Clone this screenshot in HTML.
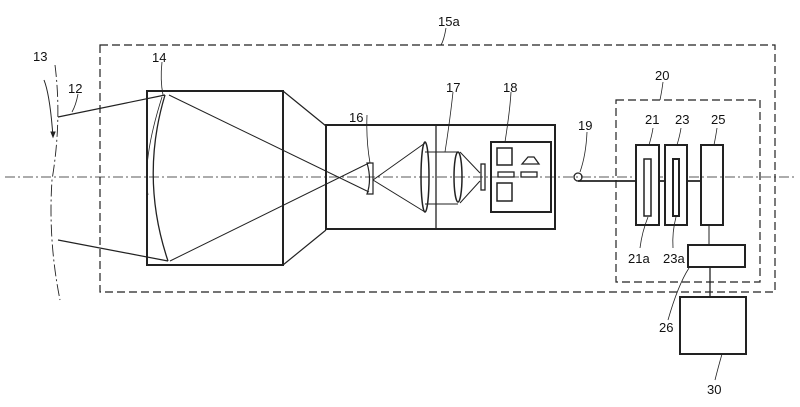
<!DOCTYPE html>
<html><head><style>body{margin:0;background:#fff}svg{display:block}text{font-family:"Liberation Sans",sans-serif;font-size:13px;fill:#111}</style></head><body>
<svg width="800" height="407" viewBox="0 0 800 407" xmlns="http://www.w3.org/2000/svg">
<g fill="none" stroke="#222">
<line x1="5" y1="177" x2="795" y2="177" stroke-width="0.8" stroke-dasharray="10,3,2,3"/>
<rect x="100" y="45" width="675" height="247" stroke-width="1.2" stroke-dasharray="8,4"/>
<rect x="616" y="100" width="144" height="182" stroke-width="1.2" stroke-dasharray="8,4"/>
<path d="M55 65 Q62 120 52 180 Q48 240 60 300" stroke-width="0.9" stroke-dasharray="12,3,2,3"/>
<path d="M44 80 Q50 95 53 137" stroke-width="1"/>
<path d="M53 137 l-2 -5 l4 0 z" fill="#222"/>
<line x1="58" y1="117" x2="165" y2="95" stroke-width="1.2"/>
<line x1="58" y1="240" x2="168" y2="261" stroke-width="1.2"/>
<line x1="169" y1="95" x2="369" y2="192" stroke-width="1"/>
<line x1="170" y1="261" x2="369" y2="163" stroke-width="1"/>
<rect x="147" y="91" width="136" height="174" stroke-width="2"/>
<path d="M283 91 L326 126 M283 265 L326 230" stroke-width="1.2"/>
<path d="M165 95 Q140 178 168 261" stroke-width="1.3"/>
<path d="M162 97 Q142 160 148 195" stroke-width="0.8"/>
<rect x="326" y="125" width="229" height="104" stroke-width="2"/>
<line x1="436" y1="125" x2="436" y2="229" stroke-width="1.3"/>
<path d="M367 163 h6 v31 h-6 Q372 180 367 163 z" stroke-width="1.2"/>
<path d="M373 180 L425 143 M373 180 L425 212" stroke-width="1"/>
<ellipse cx="425" cy="177" rx="4" ry="35" stroke-width="1.5"/>
<path d="M425 152 H458 M425 204 H458" stroke-width="1"/>
<ellipse cx="458" cy="177" rx="4" ry="25" stroke-width="1.5"/>
<path d="M460 152 L480 173 M460 203 L480 181" stroke-width="1"/>
<rect x="481" y="164" width="4" height="26" stroke-width="1.3"/>
<rect x="491" y="142" width="60" height="70" stroke-width="2"/>
<rect x="497" y="148" width="15" height="17" stroke-width="1.5"/>
<rect x="497" y="183" width="15" height="18" stroke-width="1.5"/>
<rect x="498" y="172" width="16" height="5" stroke-width="1.3"/>
<rect x="521" y="172" width="16" height="5" stroke-width="1.3"/>
<path d="M522 164 L528 157 H534 L539 164 Z" stroke-width="1.3"/>
<circle cx="578" cy="177" r="4" stroke-width="1.3"/>
<line x1="578" y1="181" x2="701" y2="181" stroke-width="1.8"/>
<rect x="636" y="145" width="23" height="80" stroke-width="2" fill="#fff"/>
<rect x="644" y="159" width="7" height="57" stroke-width="1.5"/>
<rect x="665" y="145" width="22" height="80" stroke-width="2" fill="#fff"/>
<rect x="673" y="159" width="6" height="57" stroke-width="2"/>
<rect x="701" y="145" width="22" height="80" stroke-width="2"/>
<line x1="709" y1="225" x2="709" y2="245" stroke-width="1"/>
<rect x="688" y="245" width="57" height="22" stroke-width="2"/>
<line x1="710" y1="267" x2="710" y2="297" stroke-width="1.3"/>
<rect x="680" y="297" width="66" height="57" stroke-width="2"/>
<g stroke-width="0.8">
<path d="M162 62 Q160 80 163 95"/>
<path d="M78 94 Q76 105 72 112"/>
<path d="M367 115 Q366 140 370 163"/>
<path d="M453 92 Q450 120 445 152"/>
<path d="M511 92 Q510 110 505 142"/>
<path d="M587 132 Q586 155 580 172"/>
<path d="M653 128 Q652 135 649 145"/>
<path d="M681 128 Q680 135 677 145"/>
<path d="M717 128 Q716 135 714 145"/>
<path d="M648 217 Q642 232 640 248"/>
<path d="M676 217 Q672 232 673 248"/>
<path d="M689 268 Q678 285 668 320"/>
<path d="M722 354 Q718 368 715 380"/>
<path d="M446 28 Q444 40 441 45"/>
<path d="M663 82 Q662 90 660 100"/>
</g>
</g>
<text x="33" y="61">13</text>
<text x="68" y="93">12</text>
<text x="152" y="62">14</text>
<text x="349" y="122">16</text>
<text x="446" y="92">17</text>
<text x="503" y="92">18</text>
<text x="578" y="130">19</text>
<text x="438" y="26">15a</text>
<text x="655" y="80">20</text>
<text x="645" y="124">21</text>
<text x="675" y="124">23</text>
<text x="711" y="124">25</text>
<text x="628" y="263">21a</text>
<text x="663" y="263">23a</text>
<text x="659" y="332">26</text>
<text x="707" y="394">30</text>
</svg>
</body></html>
